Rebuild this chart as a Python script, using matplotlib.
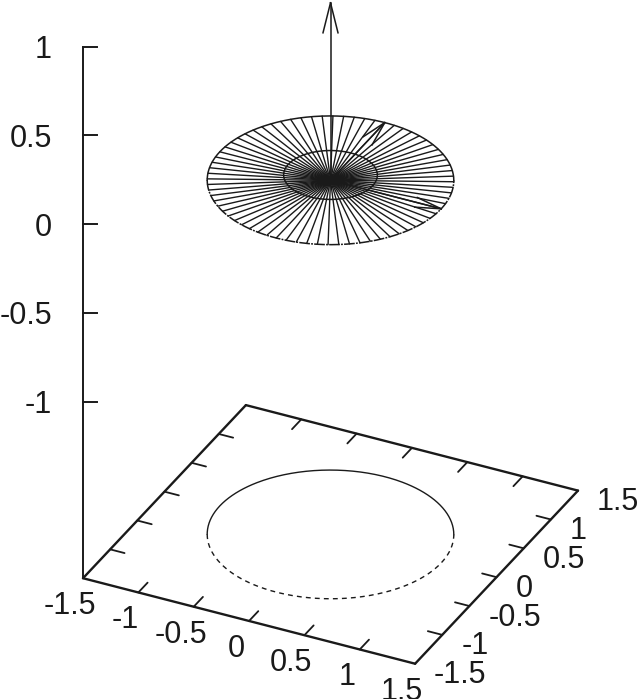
import matplotlib
matplotlib.use('Agg')
import matplotlib.pyplot as plt
import numpy as np

plt.rcParams['font.family'] = ['Liberation Sans', 'DejaVu Sans']

W, H = 640, 699

# valores
z_ticks = [-1, -0.5, 0, 0.5, 1]
z_labels = ['-1', '-0.5', '0', '0.5', '1']
xy_ticks = [-1.5, -1, -0.5, 0, 0.5, 1, 1.5]
xy_labels = ['-1.5', '-1', '-0.5', '0', '0.5', '1', '1.5']
z_base = -1.995
z_top = 1
r_outer = 1.0
r_inner = 0.38
z_inner = 0.03
spoke_angles = list(range(0, 360, 5))
arrows = [(1, 0, 0), (0, 1, 0), (0, 0, 1)]
cor = '#1a1a1a'


# projecao como no gnuplot (view 60,30), em pixeis
def proj(x, y, z):
    x, y, z = np.asarray(x), np.asarray(y), np.asarray(z)
    px = 330.5 + 110.7 * x + 54.3 * y
    py = 180.3 + 28.5 * x - 57.7 * y - 177.5 * z
    return px, py


def linha(ax, a, b, **kw):
    px, py = proj(*zip(a, b))
    ax.plot(px, py, color=cor, solid_capstyle='round', **kw)


def circulo(ax, r, z, ini, fim, **kw):
    th = np.radians(np.linspace(ini, fim, 200))
    px, py = proj(r * np.cos(th), r * np.sin(th), np.full_like(th, z))
    ax.plot(px, py, color=cor, **kw)


fig = plt.figure(figsize=(W / 100, H / 100), dpi=100)
ax = fig.add_axes([0, 0, 1, 1])
ax.set_xlim(0, W)
ax.set_ylim(H, 0)
ax.axis('off')

# caixa da base
lo, hi = xy_ticks[0], xy_ticks[-1]
for a, b in [((lo, lo), (hi, lo)), ((hi, lo), (hi, hi)), ((hi, hi), (lo, hi)), ((lo, hi), (lo, lo))]:
    linha(ax, (*a, z_base), (*b, z_base), lw=1.7)
linha(ax, (lo, lo, z_base), (lo, lo, z_top), lw=1.4)

# ticks
for t in xy_ticks[1:-1]:
    linha(ax, (t, lo, z_base), (t, lo + 0.17, z_base), lw=1.3)
    linha(ax, (t, hi, z_base), (t, hi - 0.17, z_base), lw=1.3)
    linha(ax, (lo, t, z_base), (lo + 0.13, t, z_base), lw=1.3)
    linha(ax, (hi, t, z_base), (hi - 0.13, t, z_base), lw=1.3)
for t in z_ticks:
    px, py = proj(lo, lo, t)
    ax.plot([px, px + 14], [py, py], color=cor, lw=1.4)

# labels
fs = 22
for t, s in zip(z_ticks, z_labels):
    px, py = proj(lo, lo, t)
    ax.text(52, py, s, fontsize=fs, ha='right', va='center_baseline', color=cor)
for t, s in zip(xy_ticks, xy_labels):
    px, py = proj(t, lo, z_base)
    ax.text(px - 13, py + 24.5, s, fontsize=fs, ha='center', va='center_baseline', color=cor)
    px, py = proj(hi, t, z_base)
    ax.text(px + 19, py + 8, s, fontsize=fs, ha='left', va='center_baseline', color=cor)

# circulo da base: metade de tras cheia, metade da frente tracejada
split = np.degrees(np.arctan2(54.3, 110.7))
circulo(ax, r_outer, z_base, split, split + 180, lw=1.0)
circulo(ax, r_outer, z_base, split + 180, split + 360, lw=1.0, dashes=(3.5, 3.0))

# disco superior
circulo(ax, r_outer, 0, split, split + 180, lw=1.1)
circulo(ax, r_outer, 0, split + 180, split + 360, lw=1.1, dashes=(7, 0.8, 1.2, 0.8))
circulo(ax, r_inner, z_inner, 0, 360, lw=1.1)
for ang in spoke_angles:
    a = np.radians(ang)
    linha(ax, (0, 0, 0), (r_outer * np.cos(a), r_outer * np.sin(a), 0), lw=1.0)

# vectores unitarios com ponta aberta
for v, comp, larg in zip(arrows, [26, 25, 30], [5, 6, 7.5]):
    linha(ax, (0, 0, 0), v, lw=1.1)
    x0, y0 = proj(0, 0, 0)
    x1, y1 = proj(*v)
    d = np.array([x1 - x0, y1 - y0], float)
    d /= np.hypot(*d)
    n = np.array([-d[1], d[0]])
    for s in (-1, 1):
        bx, by = np.array([x1, y1]) - comp * d + s * larg * n
        ax.plot([x1, bx], [y1, by], color=cor, lw=1.1)

fig.savefig('out.png', dpi=100)
